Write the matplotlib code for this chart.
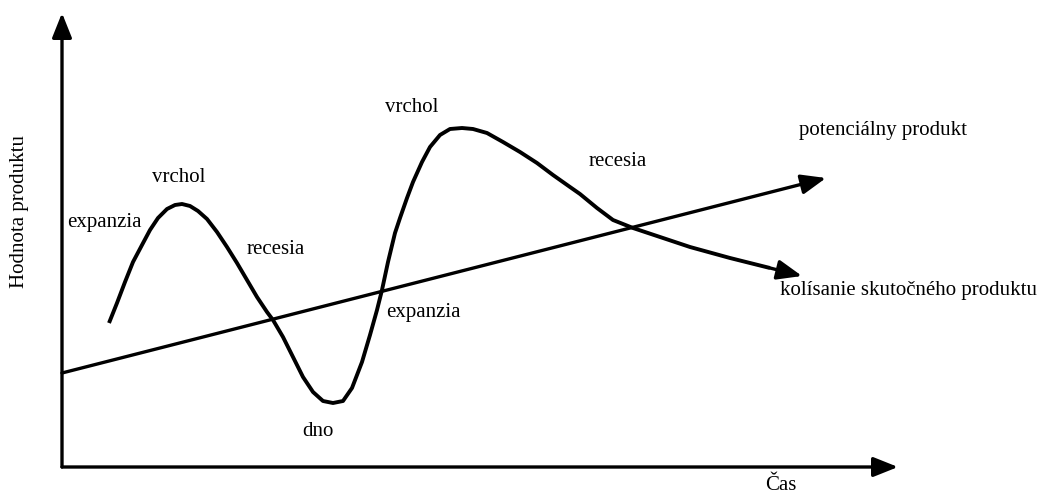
import numpy as np
import matplotlib.pyplot as plt

# hospodársky cyklus - schéma
# súradnice: cas od začiatku osi, hodnota od osi x (odčítané z obrázka)
cas = [47, 55, 63, 71, 80, 88, 96, 105, 113, 120, 128, 136, 145, 155, 165, 175,
       185, 195, 205, 211, 221, 231, 241, 251, 261, 271, 281, 290, 300, 308,
       315, 320, 326, 333, 338, 345, 351, 360, 368, 378, 388, 400, 411, 425,
       441, 458, 475, 491, 508, 518, 535, 551, 571, 601, 628, 668, 708, 740]
hodnota = [144, 164, 185, 205, 222, 237, 249, 258, 262, 263, 261, 256, 248, 235, 220, 204,
           187, 170, 155, 147, 130, 110, 90, 75, 66, 64, 66, 79, 105, 132,
           157, 177, 205, 234, 249, 269, 285, 305, 320, 332, 338, 339, 338, 334,
           325, 315, 304, 292, 280, 273, 259, 247, 239, 229, 220, 209, 199, 191]

# potenciálny produkt - priamka
pot_cas = [0, 764]
pot_hodnota = [94, 289]

cas_max = 836
hodnota_max = 454

texty = [("expanzia", 5, 245, "left"),
         ("vrchol", 117, 289, "center"),
         ("recesia", 214, 217, "center"),
         ("dno", 256, 35, "center"),
         ("vrchol", 350, 360, "center"),
         ("expanzia", 361, 154, "center"),
         ("recesia", 556, 305, "center"),
         ("potenciálny produkt", 821, 337, "center"),
         ("kolísanie skutočného produktu", 846, 177, "center")]

plt.rcParams['font.family'] = ['Liberation Serif', 'DejaVu Serif']

fig = plt.figure(figsize=(10.43, 4.95), dpi=100)
ax = fig.add_axes([0, 0, 1, 1])
ax.set_xlim(-62, 981)
ax.set_ylim(-28, 467)
ax.axis('off')

lw = 2.4
arrow = dict(arrowstyle='-|>,head_length=0.75,head_width=0.3', color='black',
             lw=lw, mutation_scale=20, shrinkA=0, shrinkB=0)

# osi
ax.annotate("", xy=(0, hodnota_max), xytext=(0, 0), arrowprops=arrow)
ax.annotate("", xy=(cas_max, 0), xytext=(0, 0), arrowprops=arrow)

# potenciálny produkt
ax.annotate("", xy=(pot_cas[1], pot_hodnota[1]), xytext=(pot_cas[0], pot_hodnota[0]),
            arrowprops=arrow)

# skutočný produkt
ax.plot(cas[:-1], hodnota[:-1], color='black', lw=lw + 0.4,
        solid_joinstyle='round', solid_capstyle='butt')
ax.annotate("", xy=(cas[-1], hodnota[-1]), xytext=(cas[-2], hodnota[-2]), arrowprops=arrow)

fs = 15
for t, x, y, ha in texty:
    ax.text(x, y, t, fontsize=fs, ha=ha, va='center')

ax.text(-42, 255, "Hodnota produktu", fontsize=fs, rotation=90, ha='center', va='center')
ax.text(719, -19, "Čas", fontsize=fs, ha='center', va='center')

fig.savefig("out.png", dpi=100)
